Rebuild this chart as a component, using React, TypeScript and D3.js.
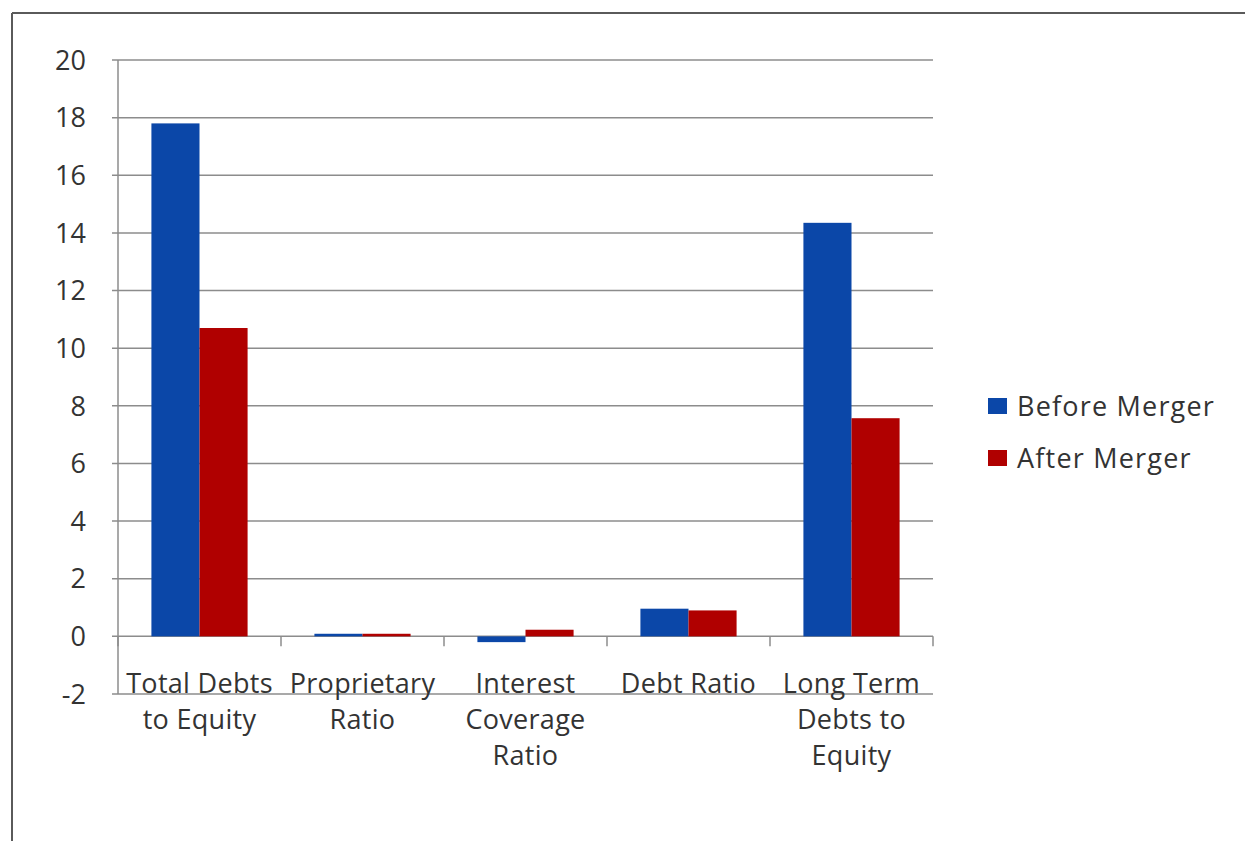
import React from "react";
import * as d3 from "d3";

const categories = [
  ["Total Debts", "to Equity"],
  ["Proprietary", "Ratio"],
  ["Interest", "Coverage", "Ratio"],
  ["Debt Ratio"],
  ["Long Term", "Debts to", "Equity"],
];
const beforeMerger = [17.8, 0.09, -0.2, 0.96, 14.35];
const afterMerger = [10.7, 0.09, 0.23, 0.9, 7.57];
const seriesNames = ["Before Merger", "After Merger"];
const seriesColors = ["#0b47a8", "#b00000"];
const yTicks = [-2, 0, 2, 4, 6, 8, 10, 12, 14, 16, 18, 20];

export default function App() {
  const W = 1245, H = 841;
  const left = 118, right = 933, top = 60, bottom = 694;
  const y = d3.scaleLinear().domain([-2, 20]).range([bottom, top]);
  const x = d3.scaleBand<number>().domain(d3.range(categories.length)).range([left, right]).paddingInner(0).paddingOuter(0);
  const bw = x.bandwidth();
  const inner = d3.scaleBand<number>().domain([0, 1]).range([bw * 0.205, bw * 0.795]).padding(0);
  const series = [beforeMerger, afterMerger];
  const font = "'Open Sans', sans-serif";
  const textColor = "#333333";
  const grid = "#8c8c8c";
  const fs = 27;
  return (
    <svg width={W} height={H} style={{ position: "absolute", left: 0, top: 0, background: "#fff" }} fontFamily={font}>
      <rect x={0} y={0} width={W} height={H} fill="#fff" />
      {/* frame */}
      <line x1={12} y1={13} x2={W} y2={13} stroke="#5a5a5a" strokeWidth={2} />
      <line x1={12} y1={13} x2={12} y2={H} stroke="#5a5a5a" strokeWidth={2} />
      {/* gridlines */}
      {yTicks.map((t) => (
        <g key={t}>
          <line x1={left - 6} x2={right} y1={y(t)} y2={y(t)} stroke={grid} strokeWidth={1.5} />
          <text x={86} y={y(t)} dy="0.36em" textAnchor="end" fontSize={fs} fill={textColor}>{t}</text>
        </g>
      ))}
      {/* bars */}
      {series.map((s, si) =>
        s.map((v, i) => {
          const bx = (x(i) as number) + (inner(si) as number);
          const y0 = y(0), y1 = y(v);
          return (
            <rect key={si + "-" + i} x={bx} width={inner.bandwidth()} y={Math.min(y0, y1)} height={Math.abs(y1 - y0)} fill={seriesColors[si]} />
          );
        })
      )}
      {/* y axis */}
      <line x1={left} x2={left} y1={top} y2={bottom} stroke={grid} strokeWidth={1.5} />
      {/* category ticks */}
      {d3.range(categories.length + 1).map((i) => {
        const cx = left + i * bw;
        return <line key={i} x1={cx} x2={cx} y1={y(0)} y2={y(0) + 10} stroke={grid} strokeWidth={1.5} />;
      })}
      {/* category labels */}
      {categories.map((lines, i) => (
        <text key={i} textAnchor="middle" fontSize={fs} fill={textColor} letterSpacing={0.3}>
          {lines.map((l, li) => (
            <tspan key={li} x={(x(i) as number) + bw / 2} y={693 + li * 36}>{l}</tspan>
          ))}
        </text>
      ))}
      {/* legend */}
      {seriesNames.map((n, i) => (
        <g key={n} transform={`translate(988, ${398 + i * 52})`}>
          <rect x={0} y={0} width={19} height={16} fill={seriesColors[i]} />
          <text x={29} y={8} dy="0.36em" fontSize={fs} fill={textColor} letterSpacing={1.2}>{n}</text>
        </g>
      ))}
    </svg>
  );
}
